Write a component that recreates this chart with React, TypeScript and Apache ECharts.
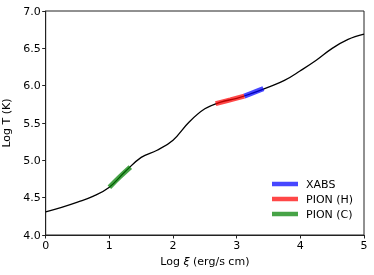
import React, { useEffect, useRef } from "react";
import * as echarts from "echarts";

const logXi = [0, 0.25, 0.5, 0.75, 1.0, 1.25, 1.5, 1.75, 2.0, 2.25, 2.5, 2.75, 3.0, 3.25, 3.5, 3.75, 4.0, 4.25, 4.5, 4.75, 5.0];
const logT = [4.31, 4.37, 4.44, 4.52, 4.64, 4.85, 5.04, 5.135, 5.27, 5.51, 5.69, 5.78, 5.83, 5.9, 5.98, 6.07, 6.2, 6.34, 6.5, 6.62, 6.69];

const segNames = ["XABS", "PION (H)", "PION (C)"];
const segXi = [
  [3.12, 3.27, 3.42],
  [2.67, 2.9, 3.12],
  [1.0, 1.165, 1.33],
];
const segT = [
  [5.86, 5.91, 5.96],
  [5.76, 5.81, 5.86],
  [4.64, 4.78, 4.91],
];
const segColors = ["rgba(0,0,255,0.72)", "rgba(255,0,0,0.72)", "rgba(0,128,0,0.72)"];

const xTicks = [0, 1, 2, 3, 4, 5];
const yTicks = [4.0, 4.5, 5.0, 5.5, 6.0, 6.5, 7.0];

export default function App() {
  const ref = useRef<HTMLDivElement>(null);
  useEffect(() => {
    if (!ref.current) return;
    const chart = echarts.init(ref.current, undefined, { renderer: "svg" });
    const curve = logXi.map((x, i) => [x, logT[i]]);
    const font = "DejaVu Sans";
    const fs = 11;
    const segSeries = segNames.map((name, k) => ({
      name,
      type: "line",
      data: segXi[k].map((x, i) => [x, segT[k][i]]),
      smooth: 0.4,
      showSymbol: false,
      symbol: "none",
      lineStyle: { color: segColors[k], width: 5, cap: "butt" },
      itemStyle: { color: segColors[k] },
      z: 3,
    }));
    chart.setOption({
      animation: false,
      textStyle: { fontFamily: font },
      grid: {
        left: 45.7, right: 10, top: 11, bottom: 40,
        outerBoundsMode: "none",
        containLabel: false,
        show: true, borderColor: "#222", borderWidth: 1, backgroundColor: "transparent",
      },
      legend: {
        data: segNames,
        orient: "vertical",
        left: 272,
        top: 178.5,
        padding: 0,
        icon: "rect",
        itemWidth: 26,
        itemHeight: 4.5,
        itemGap: 4,
        textStyle: { fontFamily: font, fontSize: fs, color: "#000", padding: [0, 0, 0, 3] },
      },
      xAxis: {
        type: "value",
        min: xTicks[0],
        max: xTicks[xTicks.length - 1],
        interval: 1,
        name: "Log {i|ξ} (erg/s cm)",
        nameLocation: "middle",
        nameGap: 19,
        nameTextStyle: { fontFamily: font, fontSize: fs, color: "#000", rich: { i: { fontStyle: "italic", fontFamily: font, fontSize: fs, color: "#000" } } },
        axisLine: { lineStyle: { color: "#222", width: 1 } },
        axisTick: { show: true, inside: false, length: 3.5, lineStyle: { color: "#222" } },
        axisLabel: { fontFamily: font, fontSize: fs, color: "#000", margin: 5 },
        splitLine: { show: false },
      },
      yAxis: {
        type: "value",
        min: yTicks[0],
        max: yTicks[yTicks.length - 1],
        interval: 0.5,
        name: "Log T (K)",
        nameLocation: "middle",
        nameGap: 27,
        nameTextStyle: { fontFamily: font, fontSize: fs, color: "#000" },
        axisLine: { show: true, lineStyle: { color: "#222", width: 1 } },
        axisTick: { show: true, inside: false, length: 3.5, lineStyle: { color: "#222" } },
        axisLabel: { fontFamily: font, fontSize: fs, color: "#000", margin: 5, formatter: (v: number) => v.toFixed(1) },
        splitLine: { show: false },
      },
      series: [
        {
          name: "curve",
          type: "line",
          data: curve,
          smooth: 0.4,
          showSymbol: false,
          symbol: "none",
          lineStyle: { color: "#000", width: 1.3 },
          z: 2,
        },
        ...segSeries,
      ],
    });
    return () => chart.dispose();
  }, []);
  return <div ref={ref} style={{ position: "fixed", left: 0, top: 0, width: 374, height: 275 }} />;
}
